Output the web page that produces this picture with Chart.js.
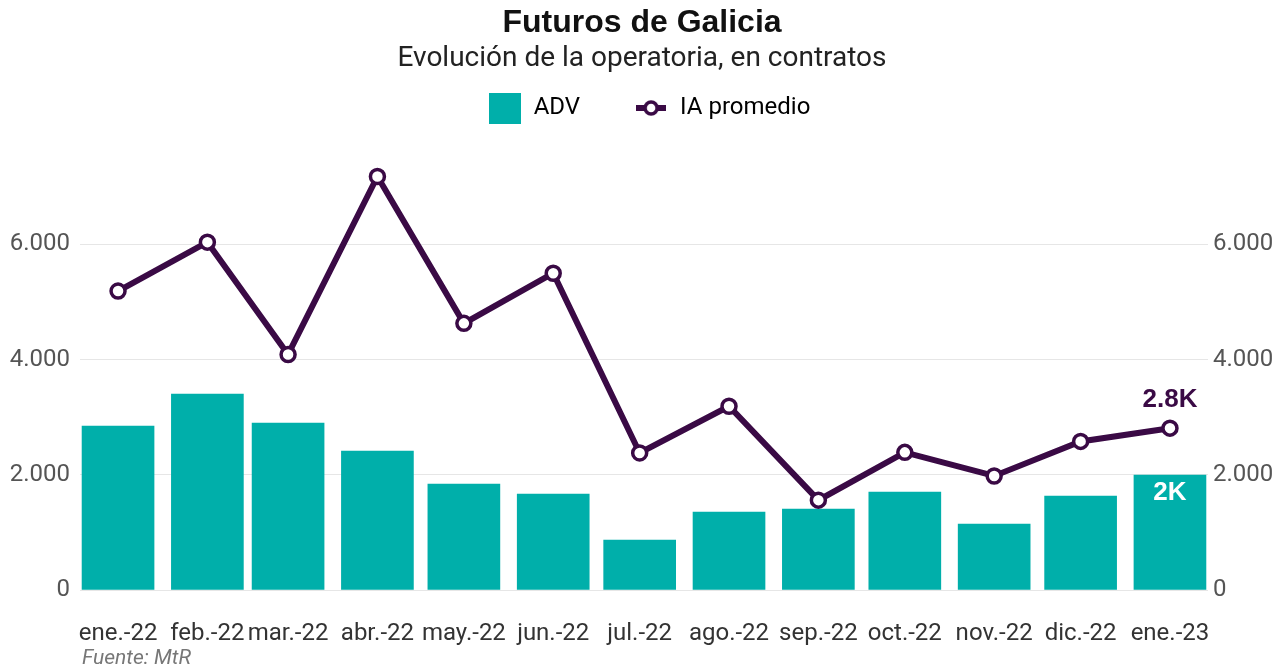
<!DOCTYPE html>
<html lang="es">
<head>
<meta charset="utf-8">
<title>Futuros de Galicia</title>
<script src="https://cdn.jsdelivr.net/npm/chart.js@4.4.1/dist/chart.umd.min.js"></script>
<style>
  html, body { margin: 0; padding: 0; background: #fff; }
  #wrap { width: 1284px; height: 669px; position: relative; }
</style>
</head>
<body>
<div id="wrap"><canvas id="chart"></canvas></div>
<script>
// Datos
const meses = ['ene.-22', 'feb.-22', 'mar.-22', 'abr.-22', 'may.-22', 'jun.-22', 'jul.-22',
               'ago.-22', 'sep.-22', 'oct.-22', 'nov.-22', 'dic.-22', 'ene.-23'];
const fechas = ['2022-01-01', '2022-02-01', '2022-03-01', '2022-04-01', '2022-05-01', '2022-06-01',
                '2022-07-01', '2022-08-01', '2022-09-01', '2022-10-01', '2022-11-01', '2022-12-01',
                '2023-01-01'];
const adv = [2845, 3400, 2897, 2411, 1839, 1665, 867, 1353, 1405, 1700, 1145, 1630, 1995];
const iaPromedio = [5190, 6040, 4090, 7180, 4630, 5500, 2380, 3190, 1560, 2390, 1980, 2580, 2810];
const yTicks = [0, 2000, 4000, 6000];
const fuente = 'Fuente: MtR';

const TEAL = '#00AFAA';
const PURPLE = '#3A0A45';

// posicion en dias desde el primer mes (los meses no miden lo mismo)
var t0 = Date.parse(fechas[0]);
var dias = fechas.map(function(f){ return Math.round((Date.parse(f) - t0) / 86400000); });

function miles(v){ return String(v).replace(/\B(?=(\d{3})+(?!\d))/g, '.'); }
function enK(v){ return (Math.round(v / 100) / 10) + 'K'; }

// iconos de la leyenda
function iconoBarra(){
  var c = document.createElement('canvas'); c.width = 32; c.height = 31;
  var g = c.getContext('2d'); g.fillStyle = TEAL; g.fillRect(0, 0, 32, 31);
  return c;
}
function iconoLinea(){
  var c = document.createElement('canvas'); c.width = 30; c.height = 20;
  var g = c.getContext('2d');
  g.strokeStyle = PURPLE; g.lineWidth = 6;
  g.beginPath(); g.moveTo(0, 10); g.lineTo(30, 10); g.stroke();
  g.beginPath(); g.arc(15, 10, 6, 0, Math.PI * 2);
  g.fillStyle = '#fff'; g.fill(); g.lineWidth = 3.5; g.stroke();
  return c;
}

var etiquetas = {
  id: 'etiquetas',
  afterLayout: function(chart){
    // la leyenda del original queda un poco a la derecha del centro
    if (chart.legend) { chart.legend.left += 7; chart.legend.right += 7; }
  },
  afterDatasetsDraw: function(chart){
    var ctx = chart.ctx;
    var last = meses.length - 1;
    var linea = chart.getDatasetMeta(0).data[last];
    var barra = chart.getDatasetMeta(1).data[last];
    ctx.save();
    ctx.font = 'bold 26px "Liberation Sans", Arial, sans-serif';
    ctx.textAlign = 'center';
    ctx.textBaseline = 'middle';
    ctx.fillStyle = PURPLE;
    ctx.fillText(enK(iaPromedio[last]), linea.x, linea.y - 28);
    ctx.fillStyle = '#fff';
    ctx.fillText(enK(adv[last]), barra.x, barra.y + 18);
    ctx.restore();
  },
  afterDraw: function(chart){
    var ctx = chart.ctx;
    ctx.save();
    ctx.font = 'italic 21px Roboto, sans-serif';
    ctx.fillStyle = '#777';
    ctx.textAlign = 'left';
    ctx.textBaseline = 'middle';
    ctx.fillText(fuente, 82, 659);
    ctx.restore();
  }
};

var tickFont = { family: 'Roboto, sans-serif', size: 24 };

var ctx = document.getElementById('chart').getContext('2d');
new Chart(ctx, {
  type: 'bar',
  data: {
    datasets: [{
      type: 'line',
      label: 'IA promedio',
      data: dias.map(function(d, i){ return { x: d, y: iaPromedio[i] }; }),
      borderColor: PURPLE,
      borderWidth: 6,
      pointRadius: 7,
      pointBorderWidth: 3.5,
      pointBackgroundColor: '#fff',
      pointBorderColor: PURPLE,
      tension: 0,
      yAxisID: 'y'
    }, {
      type: 'bar',
      label: 'ADV',
      data: dias.map(function(d, i){ return { x: d, y: adv[i] }; }),
      backgroundColor: TEAL,
      barThickness: 72,
      yAxisID: 'y'
    }]
  },
  options: {
    responsive: true,
    maintainAspectRatio: false,
    animation: false,
    layout: { padding: { left: 0, right: 0, top: 0, bottom: 14 } },
    scales: {
      x: {
        type: 'linear',
        min: -13.2,
        max: 378.2,
        offset: false,
        grid: { display: false, drawTicks: false },
        border: { display: false },
        afterBuildTicks: function(s){ s.ticks = dias.map(function(d){ return { value: d }; }); },
        afterFit: function(s){ s.height = 65; },
        ticks: {
          autoSkip: false,
          maxRotation: 0,
          padding: 30,
          color: '#333',
          font: tickFont,
          callback: function(v){ var i = dias.indexOf(v); return i >= 0 ? meses[i] : ''; }
        }
      },
      y: {
        position: 'left',
        min: 0,
        max: 7980,
        grid: { color: '#e6e6e6', lineWidth: 1, drawTicks: false },
        border: { display: false },
        afterBuildTicks: function(s){ s.ticks = yTicks.map(function(v){ return { value: v }; }); },
        afterFit: function(s){ s.width = 80; },
        ticks: { padding: 10, color: '#555', font: tickFont, callback: function(v){ return miles(v); } }
      },
      y2: {
        position: 'right',
        min: 0,
        max: 7980,
        grid: { display: false, drawTicks: false },
        border: { display: false },
        afterBuildTicks: function(s){ s.ticks = yTicks.map(function(v){ return { value: v }; }); },
        afterFit: function(s){ s.width = 76; },
        ticks: { padding: 5, color: '#555', font: tickFont, callback: function(v){ return miles(v); } }
      }
    },
    plugins: {
      title: {
        display: true,
        text: 'Futuros de Galicia',
        color: '#111',
        font: { family: '"Liberation Sans", Arial, sans-serif', size: 32, weight: 'bold' },
        padding: { top: 4, bottom: 0 }
      },
      subtitle: {
        display: true,
        text: 'Evolución de la operatoria, en contratos',
        color: '#222',
        font: { family: 'Roboto, sans-serif', size: 28 },
        padding: { top: 0, bottom: -34 }
      },
      legend: {
        display: true,
        position: 'top',
        labels: {
          usePointStyle: true,
          pointStyleWidth: 34,
          padding: 54,
          color: '#222',
          font: { family: 'Roboto, sans-serif', size: 24 },
          generateLabels: function(chart){
            return [
              { text: 'ADV', pointStyle: iconoBarra(), fillStyle: TEAL, strokeStyle: TEAL, lineWidth: 0, datasetIndex: 1, hidden: false },
              { text: 'IA promedio', pointStyle: iconoLinea(), fillStyle: '#fff', strokeStyle: PURPLE, lineWidth: 0, datasetIndex: 0, hidden: false }
            ];
          }
        }
      },
      tooltip: { enabled: false }
    }
  },
  plugins: [etiquetas]
});
</script>
</body>
</html>
